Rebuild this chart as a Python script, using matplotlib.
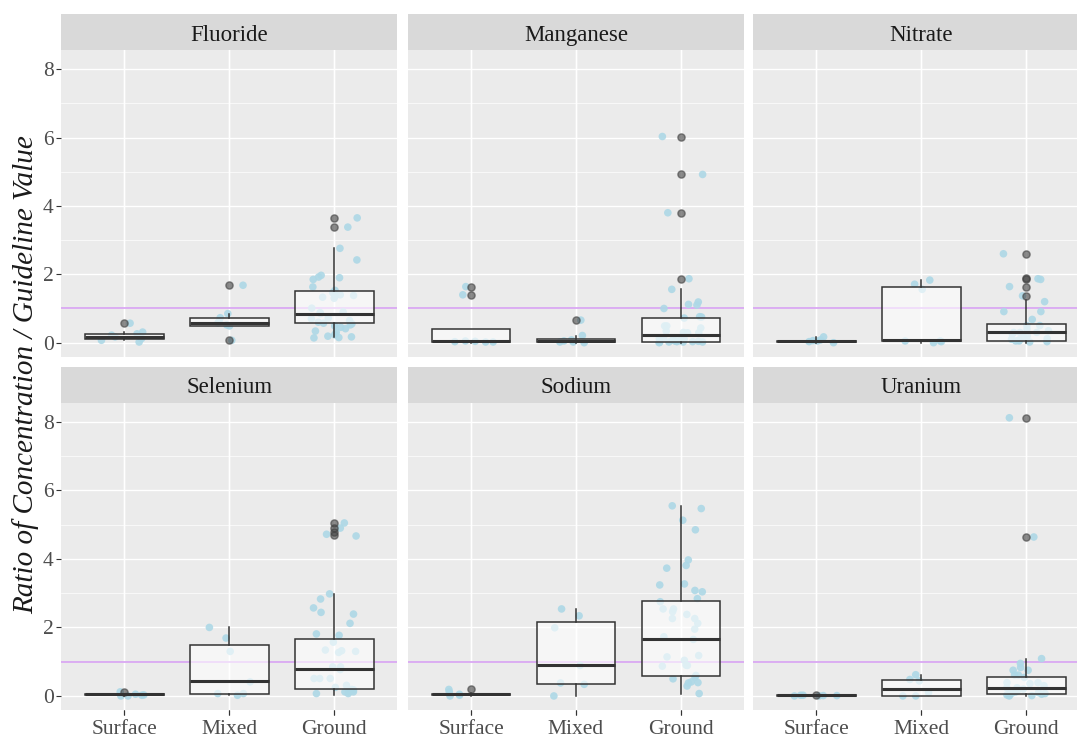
import numpy as np
import matplotlib
matplotlib.use("Agg")
import matplotlib.pyplot as plt

plt.rcParams['font.family'] = ['Liberation Serif', 'DejaVu Serif']

# ---------------- data ----------------
elements = ["Fluoride", "Manganese", "Nitrate", "Selenium", "Sodium", "Uranium"]
sources = ["Surface", "Mixed", "Ground"]
y_ticks = [0, 2, 4, 6, 8]
guideline = 1.0

# jittered observations (ratio values) per element, per source
fluoride_pts = {
    "Surface": [0.57, 0.31, 0.26, 0.22, 0.17, 0.12, 0.07, 0.02],
    "Mixed": [1.68, 0.85, 0.73, 0.62, 0.58, 0.52, 0.49, 0.07],
    "Ground": [3.65, 3.38, 2.76, 2.42, 1.97, 1.92, 1.90, 1.85, 1.63, 1.53, 1.46, 1.38,
               1.40, 1.36, 1.30, 1.33, 1.01, 0.88, 0.90, 0.85, 0.72, 0.70, 0.65, 0.60,
               0.57, 0.55, 0.49, 0.52, 0.45, 0.41, 0.34, 0.30, 0.23, 0.17, 0.19, 0.15, 0.14],
}
manganese_pts = {
    "Surface": [1.64, 1.40, 0.03, 0.02, 0.05, 0.02, 0.04],
    "Mixed": [0.66, 0.21, 0.00, 0.02, 0.02, 0.05, 0.08],
    "Ground": [6.03, 4.92, 3.80, 1.87, 1.56, 1.19, 1.12, 1.00, 1.10, 0.75, 0.76, 0.72,
               0.49, 0.49, 0.43, 0.30, 0.34, 0.29, 0.29, 0.10, 0.05, 0.03, 0.02, 0.01,
               0.04, 0.06, 0.02, 0.08, 0.03, 0.00, 0.05, 0.12, 0.15, 0.02],
}
nitrate_pts = {
    "Surface": [0.17, 0.06, 0.05, 0.00, 0.03, 0.08],
    "Mixed": [1.83, 1.71, 1.56, 0.00, 0.05, 0.05, 0.03],
    "Ground": [2.60, 1.87, 1.85, 1.64, 1.37, 0.91, 0.91, 0.68, 0.50, 0.50, 0.30, 0.30,
               0.25, 0.30, 0.10, 0.05, 0.03, 0.02, 0.08, 0.05, 0.12, 0.15, 0.35, 0.40,
               0.20, 1.20],
}
selenium_pts = {
    "Surface": [0.05, 0.00, 0.00, 0.02, 0.12, 0.03],
    "Mixed": [2.00, 1.69, 1.30, 0.41, 0.07, 0.07, 0.02],
    "Ground": [5.05, 4.90, 4.67, 4.72, 2.98, 2.83, 2.57, 2.44, 2.39, 2.12, 1.81, 1.77,
               1.57, 1.27, 1.32, 1.34, 1.30, 0.85, 0.77, 0.85, 0.51, 0.51, 0.51, 0.31,
               0.12, 0.12, 0.07, 0.12, 0.07, 0.19, 0.25, 0.18],
}
sodium_pts = {
    "Surface": [0.00, 0.12, 0.19, 0.02, 0.05],
    "Mixed": [2.54, 2.34, 1.99, 0.89, 0.38, 0.34, 0.00],
    "Ground": [5.55, 5.47, 5.13, 4.85, 3.97, 3.81, 3.73, 3.27, 3.24, 3.08, 3.04, 2.84,
               2.75, 2.54, 2.46, 2.54, 2.38, 2.26, 2.26, 2.12, 1.95, 1.73, 1.65, 1.18,
               1.14, 1.04, 0.89, 0.90, 0.87, 0.38, 0.29, 0.60, 0.55, 0.50, 0.41, 0.39, 0.07],
}
uranium_pts = {
    "Surface": [0.02, 0.00, 0.01, 0.02, 0.00, 0.01],
    "Mixed": [0.62, 0.48, 0.44, 0.10, 0.00, 0.00],
    "Ground": [8.12, 4.64, 1.09, 0.83, 0.95, 0.75, 0.75, 0.61, 0.61, 0.54, 0.39, 0.39,
               0.36, 0.24, 0.24, 0.10, 0.05, 0.02, 0.00, 0.03, 0.07, 0.12, 0.15, 0.05,
               0.01, 0.08, 0.20, 0.30],
}

# box statistics per element: rows = Surface, Mixed, Ground
# (whislo, q1, median, q3, whishi)
fluoride_box = [(0.07, 0.12, 0.18, 0.24, 0.31), (0.49, 0.49, 0.58, 0.73, 0.85), (0.18, 0.57, 0.83, 1.50, 2.77)]
manganese_box = [(0.00, 0.02, 0.06, 0.41, 0.41), (0.00, 0.03, 0.06, 0.10, 0.21), (0.00, 0.03, 0.23, 0.72, 1.56)]
nitrate_box = [(0.00, 0.03, 0.05, 0.06, 0.17), (0.00, 0.05, 0.07, 1.64, 1.83), (0.00, 0.05, 0.31, 0.56, 1.25)]
selenium_box = [(0.00, 0.03, 0.05, 0.06, 0.06), (0.02, 0.07, 0.44, 1.48, 2.00), (0.02, 0.19, 0.79, 1.65, 2.98)]
sodium_box = [(0.00, 0.02, 0.05, 0.06, 0.08), (0.00, 0.34, 0.90, 2.16, 2.54), (0.07, 0.58, 1.67, 2.77, 5.55)]
uranium_box = [(0.00, 0.00, 0.02, 0.02, 0.02), (0.00, 0.00, 0.19, 0.48, 0.62), (0.00, 0.05, 0.24, 0.56, 1.09)]

# outliers per element: Surface, Mixed, Ground
fluoride_out = [[0.57], [1.68, 0.07], [3.65, 3.38]]
manganese_out = [[1.64, 1.40], [0.66], [6.03, 4.92, 3.80, 1.87]]
nitrate_out = [[], [], [2.60, 1.87, 1.90, 1.64, 1.37]]
selenium_out = [[0.12], [], [5.05, 4.90, 4.80, 4.69]]
sodium_out = [[0.19], [], []]
uranium_out = [[0.02], [], [8.12, 4.64]]

points = [fluoride_pts, manganese_pts, nitrate_pts, selenium_pts, sodium_pts, uranium_pts]
boxes = [fluoride_box, manganese_box, nitrate_box, selenium_box, sodium_box, uranium_box]
outs = [fluoride_out, manganese_out, nitrate_out, selenium_out, sodium_out, uranium_out]

# ---------------- layout ----------------
W, H = 1077, 738
fig = plt.figure(figsize=(W / 100, H / 100), dpi=100)
fig.patch.set_facecolor("white")

col_x = [61.3, 408.0, 753.3]
col_w = 336.0
rows = [(14.3, 50.0, 356.7), (367.3, 402.7, 710.0)]  # strip top, panel top, panel bottom


def rect(x0, y0, x1, y1):
    return [x0 / W, 1 - y1 / H, (x1 - x0) / W, (y1 - y0) / H]


rng = np.random.default_rng(7)
tick_col = "#4D4D4D"
fs = 15.5

for i, el in enumerate(elements):
    r, c = divmod(i, 3)
    st, pt, pb = rows[r]
    x0 = col_x[c]
    ax = fig.add_axes(rect(x0, pt, x0 + col_w, pb))
    sax = fig.add_axes(rect(x0, st, x0 + col_w, pt))
    sax.set_facecolor("#D9D9D9")
    sax.set_xticks([]); sax.set_yticks([])
    for s in sax.spines.values():
        s.set_visible(False)
    sax.text(0.5, 0.42, el, ha="center", va="center", fontsize=16.5, color="#1A1A1A",
             transform=sax.transAxes)

    ax.set_facecolor("#EBEBEB")
    for s in ax.spines.values():
        s.set_visible(False)
    ax.set_xlim(0.4, 3.6)
    ax.set_ylim(-0.41, 8.56)
    ax.set_yticks(y_ticks)
    ax.set_yticks([1, 3, 5, 7], minor=True)
    ax.set_xticks([1, 2, 3])
    ax.grid(True, which="major", color="white", lw=1.0)
    ax.grid(True, which="minor", axis="y", color="white", lw=0.5)
    ax.set_axisbelow(True)
    ax.tick_params(which="minor", length=0)
    ax.tick_params(which="major", length=3.5, color="#333333", width=0.8,
                   labelsize=fs, labelcolor=tick_col, pad=2)
    ax.tick_params(axis="x", pad=4)

    if r == 1:
        ax.set_xticklabels(sources)
    else:
        ax.tick_params(axis="x", length=0, labelbottom=False)
    if c == 0:
        ax.set_yticklabels([str(t) for t in y_ticks])
    else:
        ax.tick_params(axis="y", length=0, labelleft=False)

    ax.axhline(guideline, color="#D9A8F2", lw=1.3, zorder=1.5)

    # jittered points
    for k, src in enumerate(sources):
        vals = np.array(points[i][src])
        xs = (k + 1) + rng.uniform(-0.22, 0.22, size=len(vals))
        ax.scatter(xs, vals, s=30, color="#ADD8E6", alpha=0.9, edgecolors="none", zorder=2)

    stats = []
    for k, src in enumerate(sources):
        wl, q1, med, q3, wh = boxes[i][k]
        stats.append(dict(whislo=wl, q1=q1, med=med, q3=q3, whishi=wh,
                          fliers=outs[i][k], label=src))
    ax.bxp(stats, positions=[1, 2, 3], widths=0.75, patch_artist=True, showcaps=False,
           boxprops=dict(facecolor=(1, 1, 1, 0.6), edgecolor="#333333", lw=1.1),
           medianprops=dict(color="#333333", lw=2.2),
           whiskerprops=dict(color="#333333", lw=1.1),
           flierprops=dict(marker="o", markersize=5.2, markerfacecolor="#404040",
                           markeredgecolor="#404040", alpha=0.6),
           zorder=3)
    ax.set_xlim(0.4, 3.6)
    ax.set_ylim(-0.41, 8.56)

fig.text(26 / W, 1 - 375 / H, "Ratio of Concentration / Guideline Value", rotation=90,
         ha="center", va="center", fontsize=21, style="italic", color="#1A1A1A")

fig.savefig("out.png", dpi=100)
